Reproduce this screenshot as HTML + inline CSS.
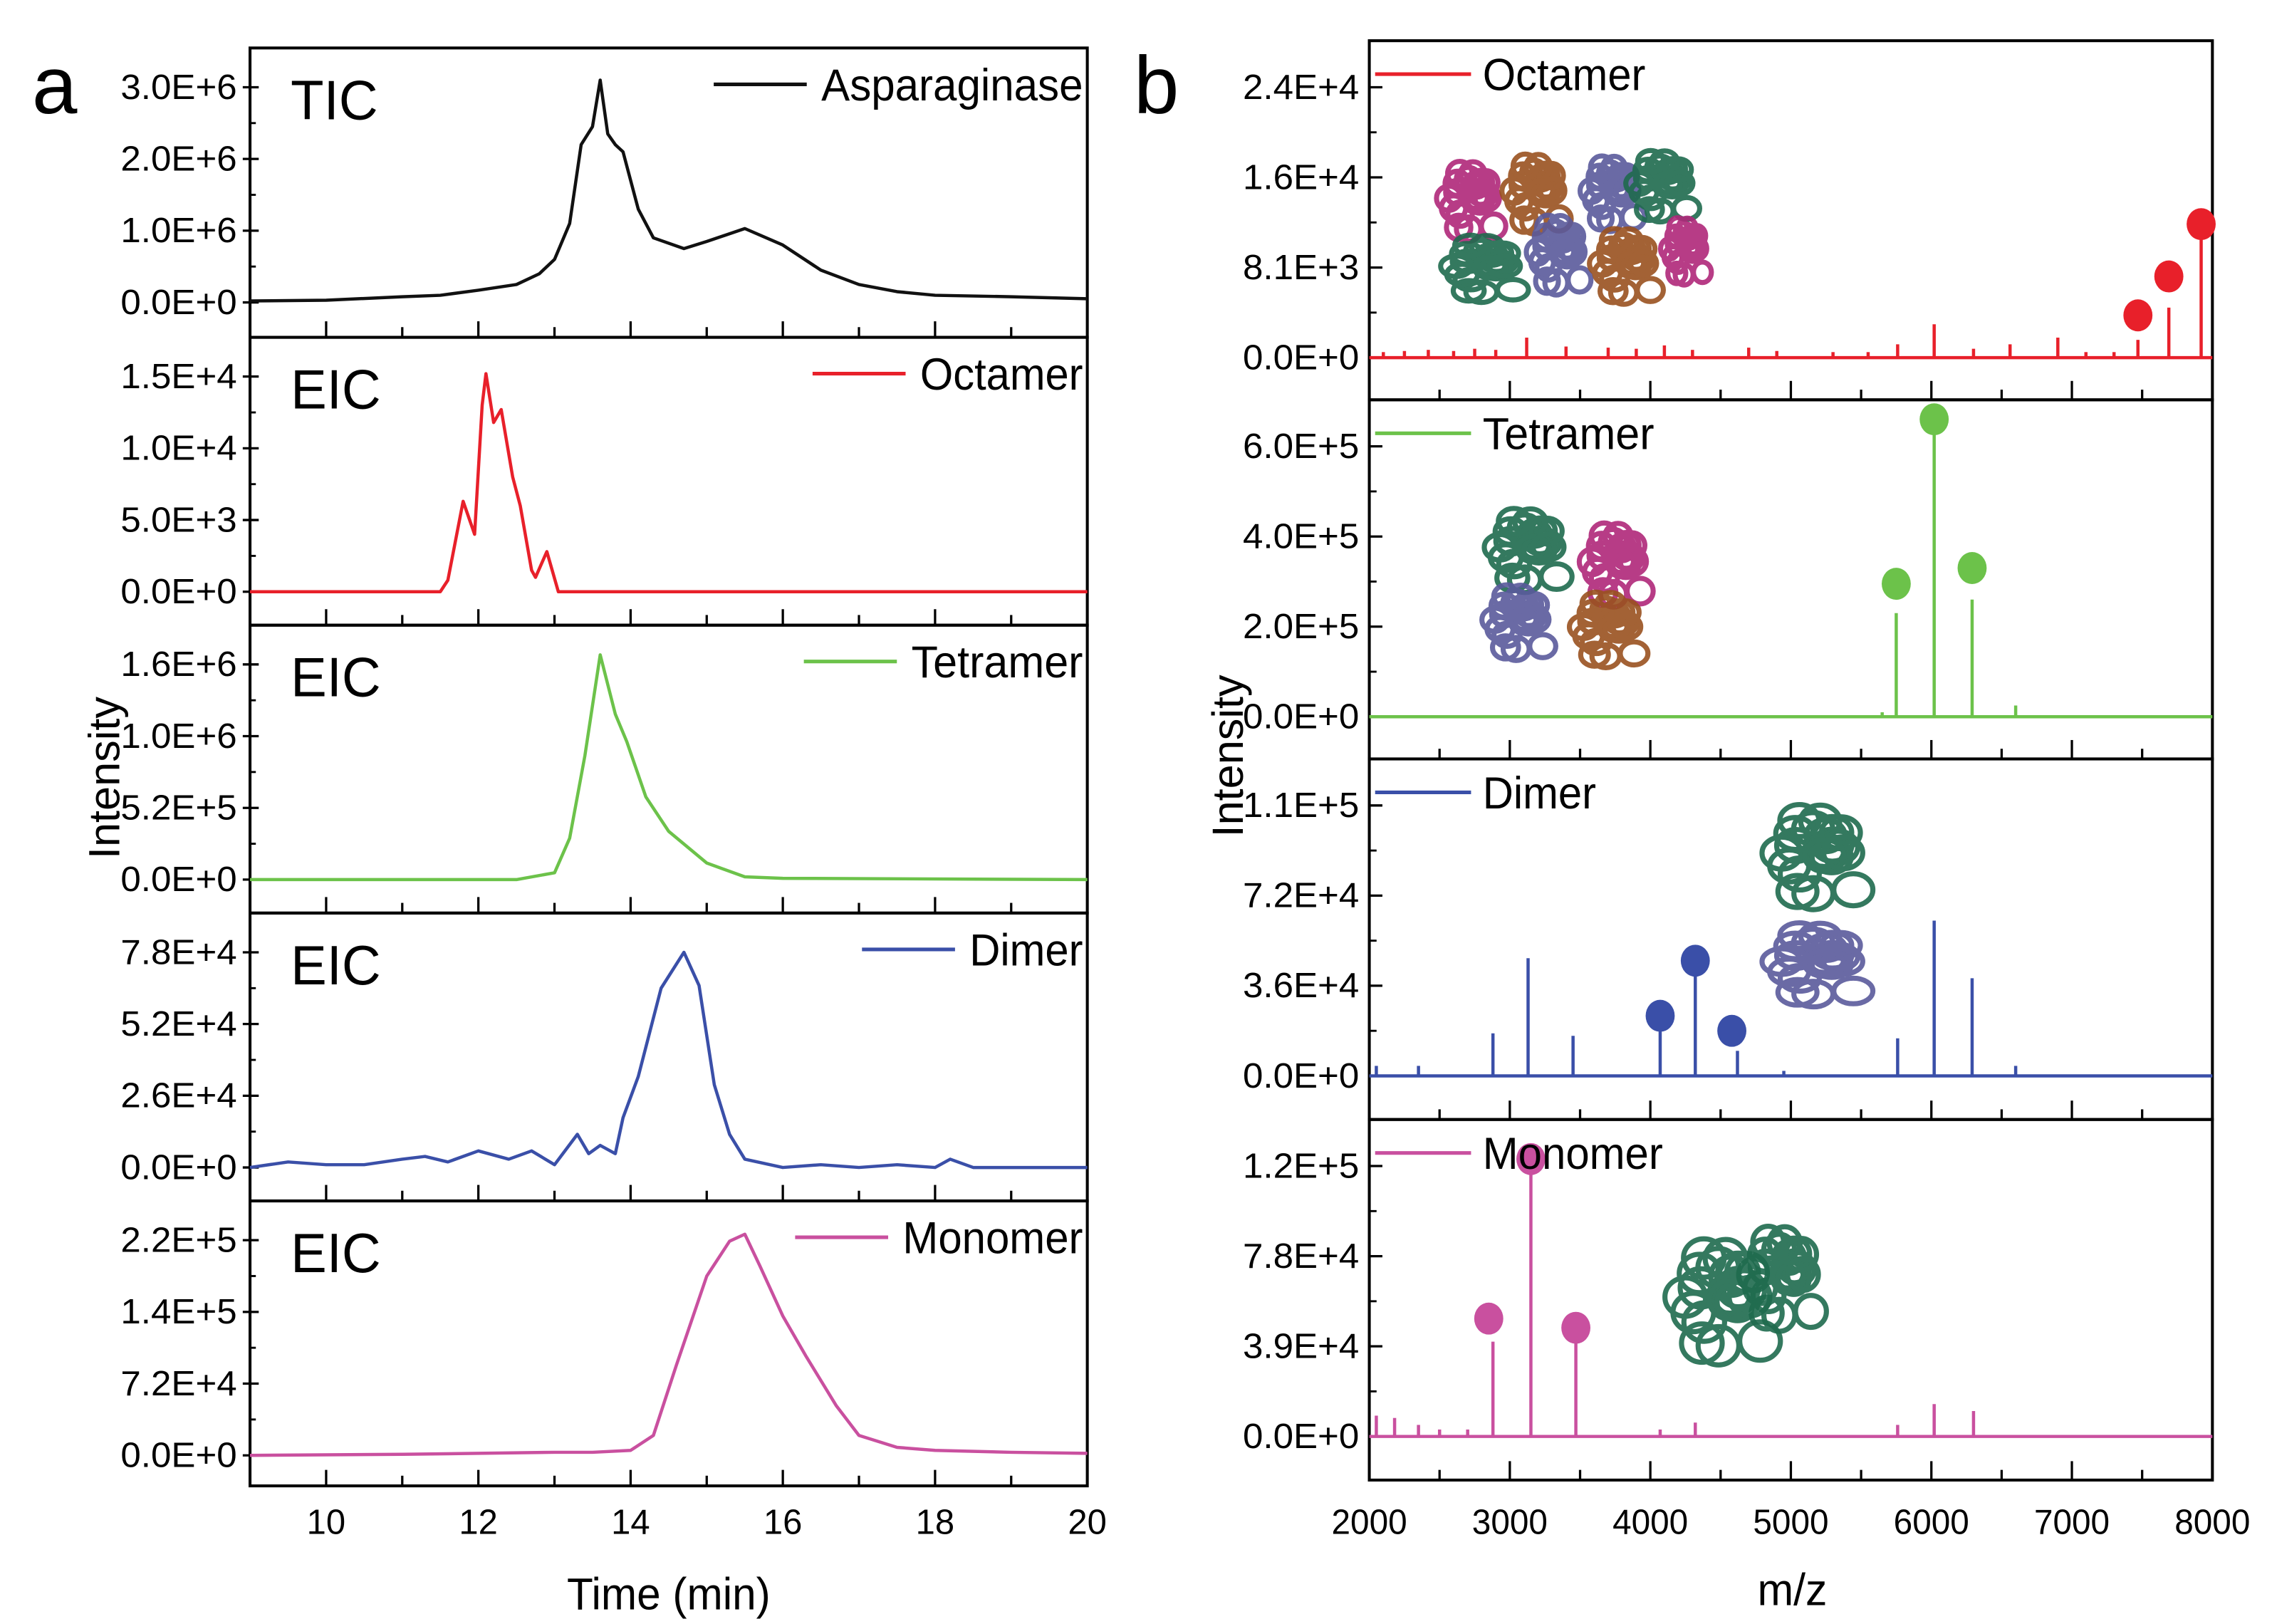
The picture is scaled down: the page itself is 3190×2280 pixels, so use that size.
<!DOCTYPE html>
<html><head><meta charset="utf-8">
<style>
html,body{margin:0;padding:0;background:#fff;}
svg{display:block;font-family:"Liberation Sans",Arial,sans-serif;}
</style></head>
<body>
<svg id="fig" width="3190" height="2280" viewBox="0 0 1563 1117" preserveAspectRatio="none" xmlns="http://www.w3.org/2000/svg">
<rect x="0" y="0" width="1563" height="1117" fill="#fff"/>
<text x="22" y="78" font-size="56">a</text>
<text x="780" y="78" font-size="56">b</text>
<text x="390" y="1107" font-size="31" textLength="140" lengthAdjust="spacingAndGlyphs">Time (min)</text>
<text x="1209" y="1104" font-size="31" textLength="48" lengthAdjust="spacingAndGlyphs">m/z</text>
<text transform="translate(82,535) rotate(-90)" font-size="30" text-anchor="middle">Intensity</text>
<text transform="translate(855,520) rotate(-90)" font-size="30" text-anchor="middle">Intensity</text>
<g id="g"></g>
</svg>
<script>
// ---------- Chromatogram data (panel a) ----------
const ticTime = [9,10,11,11.5,12,12.5,12.8,13,13.2,13.35,13.5,13.6,13.7,13.8,13.9,14.1,14.3,14.7,15,15.5,16,16.5,17,17.5,18,19,20];
const ticVals = [0.02,0.03,0.08,0.1,0.17,0.25,0.4,0.6,1.1,2.2,2.45,3.1,2.35,2.2,2.1,1.3,0.9,0.75,0.85,1.03,0.8,0.45,0.25,0.15,0.1,0.08,0.05];
const octTime = [9,11.5,11.6,11.8,11.95,12.05,12.1,12.2,12.3,12.45,12.55,12.7,12.75,12.9,13.05,20];
const octVals = [0,0,0.8,6.3,4.0,13,15.2,11.8,12.7,8,6,1.5,1.0,2.8,0,0];
const tetTime = [9,12.5,13,13.2,13.4,13.6,13.8,13.95,14.2,14.5,15,15.5,16,20];
const tetVals = [0,0,0.05,0.3,0.9,1.63,1.2,1.0,0.6,0.35,0.12,0.02,0.01,0];
const dimTime = [9,9.5,10,10.5,11,11.3,11.6,12,12.4,12.7,13,13.3,13.45,13.6,13.8,13.9,14.1,14.4,14.7,14.9,15.1,15.3,15.5,16,16.5,17,17.5,18,18.2,18.5,19,20];
const dimVals = [0,0.2,0.1,0.1,0.3,0.4,0.2,0.6,0.3,0.6,0.1,1.2,0.5,0.8,0.5,1.8,3.3,6.5,7.8,6.6,3.0,1.2,0.3,0.0,0.1,0.0,0.1,0.0,0.3,0.0,0.0,0.0];
const monTime = [9,11,13,13.5,14,14.3,14.6,15,15.3,15.5,15.7,16,16.3,16.7,17,17.5,18,19,20];
const monVals = [0,0.01,0.03,0.03,0.05,0.2,0.9,1.8,2.15,2.22,1.9,1.4,1.0,0.5,0.2,0.08,0.05,0.03,0.02];
const timeTicks = [10,12,14,16,18,20];

// ---------- Spectra data (panel b) ----------
const octMz = [2100,2250,2420,2600,2750,2900,3120,3400,3700,3900,4100,4300,4700,4900,5300,5550,5760,6020,6300,6560,6900,7100,7300,7470,7690,7920];
const octInt = [0.5,0.6,0.7,0.6,0.8,0.7,1.8,1.0,0.9,0.8,1.1,0.7,0.9,0.6,0.5,0.5,1.2,3.0,0.8,1.2,1.8,0.5,0.5,1.6,4.5,10.8];
const octMarkMz = [7470,7690,7920];
const octMarkInt = [3.8,7.3,12.0];
const tetMz = [5650,5750,6020,6290,6600];
const tetInt = [0.1,2.3,6.6,2.6,0.25];
const tetMarkMz = [5750,6020,6290];
const tetMarkInt = [2.95,6.6,3.3];
const dimMz = [2050,2350,2880,3130,3450,4070,4320,4620,4950,5760,6020,6290,6600];
const dimInt = [0.4,0.4,1.7,4.7,1.6,2.4,4.6,1.0,0.2,1.5,6.2,3.9,0.4];
const dimMarkMz = [4070,4320,4580];
const dimMarkInt = [2.4,4.6,1.8];
const monMz = [2050,2180,2350,2500,2700,2880,3150,3470,4070,4320,5760,6020,6300];
const monInt = [0.9,0.8,0.5,0.3,0.3,4.1,12.0,4.5,0.3,0.6,0.5,1.4,1.1];
const monMarkMz = [2850,3150,3470];
const monMarkInt = [5.1,12.0,4.7];
const mzTicks = [2000,3000,4000,5000,6000,7000,8000];

const NS = "http://www.w3.org/2000/svg";
const G = document.getElementById('g');
function el(tag, attrs, parent){const e=document.createElementNS(NS,tag);for(const k in attrs)e.setAttribute(k,attrs[k]);(parent||G).appendChild(e);return e;}

// left panels
const LX0=172, LX1=748, T0=9, T1=20;
const xT = t => LX0 + (t-T0)/(T1-T0)*(LX1-LX0);
const leftPanels = [
 {top:33,bot:232,name:'tic',label:'TIC',legend:'Asparaginase',lw:180,color:'#111',t:ticTime,v:ticVals,ticks:[0,1,2,3],tl:['0.0E+0','1.0E+6','2.0E+6','3.0E+6'],max:3},
 {top:232,bot:430,name:'octamer',label:'EIC',legend:'Octamer',lw:112,color:'#e8202a',t:octTime,v:octVals,ticks:[0,5,10,15],tl:['0.0E+0','5.0E+3','1.0E+4','1.5E+4'],max:15},
 {top:430,bot:628,name:'tetramer',label:'EIC',legend:'Tetramer',lw:118,color:'#6cc24a',t:tetTime,v:tetVals,ticks:[0,0.52,1.04,1.56],tl:['0.0E+0','5.2E+5','1.0E+6','1.6E+6'],max:1.56},
 {top:628,bot:826,name:'dimer',label:'EIC',legend:'Dimer',lw:78,color:'#3a4fa8',t:dimTime,v:dimVals,ticks:[0,2.6,5.2,7.8],tl:['0.0E+0','2.6E+4','5.2E+4','7.8E+4'],max:7.8},
 {top:826,bot:1022,name:'monomer',label:'EIC',legend:'Monomer',lw:124,color:'#c9509f',t:monTime,v:monVals,ticks:[0,0.72,1.44,2.16],tl:['0.0E+0','7.2E+4','1.4E+5','2.2E+5'],max:2.16},
];
leftPanels.forEach((p,i)=>{
  const z=p.top+175, tp=p.top+27;
  const yV = v => z - v/p.max*(z-tp);
  const g=el('g',{});
  
  
  const r=el('rect',{x:LX0,y:p.top,width:LX1-LX0,height:p.bot-p.top,fill:'none',stroke:'#000','stroke-width':2},g);
  
  
  p.ticks.forEach((tv,k)=>{
    const y=yV(tv);
    el('line',{x1:LX0-5,x2:LX0+6,y1:y,y2:y,stroke:'#000','stroke-width':1.6},g);
    if(k<3){const ym=yV(tv+(p.ticks[1]-p.ticks[0])/2);el('line',{x1:LX0,x2:LX0+4,y1:ym,y2:ym,stroke:'#000','stroke-width':1.4},g);}
    const t=el('text',{x:83,y:y+8,'font-size':24,textLength:80,lengthAdjust:'spacingAndGlyphs'},g);
    t.textContent=p.tl[k];
    
    
  });
  for(let m=10;m<=19;m++){const x=xT(m);el('line',{x1:x,x2:x,y1:p.bot,y2:p.bot-(m%2===0?11:7),stroke:'#000','stroke-width':1.6},g);}
  const path=p.t.map((t,k)=>(k?'L':'M')+xT(t).toFixed(1)+','+yV(p.v[k]).toFixed(1)).join(' ');
  const ln=el('path',{d:path,fill:'none',stroke:p.color,'stroke-width':2.2,'stroke-linejoin':'round'},g);
  
  
  const lb=el('text',{x:200,y:p.top+49,'font-size':38,textLength:p.label==='TIC'?60:62,lengthAdjust:'spacingAndGlyphs'},g);lb.textContent=p.label;
  
  
  const lt=el('text',{x:745-p.lw,y:p.top+36,'font-size':31,textLength:p.lw,lengthAdjust:'spacingAndGlyphs'},g);lt.textContent=p.legend;
  
  
  el('line',{x1:745-p.lw-74,x2:745-p.lw-10,y1:p.top+25,y2:p.top+25,stroke:p.color,'stroke-width':2.5},g);
});
timeTicks.forEach(t=>{const tx=el('text',{x:xT(t),y:1055,'font-size':24,'text-anchor':'middle'});tx.textContent=t;
  
  });

// right panels
const RX0=942, RX1=1522, M0=2000, M1=8000;
const xM = m => RX0 + (m-M0)/(M1-M0)*(RX1-RX0);
const rightPanels = [
 {top:28,bot:275,name:'octamer',legend:'Octamer',lw:112,color:'#e8202a',mz:octMz,iv:octInt,mmz:octMarkMz,miv:octMarkInt,ticks:[0,8.1,16.2,24.3],tl:['0.0E+0','8.1E+3','1.6E+4','2.4E+4']},
 {top:275,bot:522,name:'tetramer',legend:'Tetramer',lw:118,color:'#6cc24a',mz:tetMz,iv:tetInt,mmz:tetMarkMz,miv:tetMarkInt,ticks:[0,2,4,6],tl:['0.0E+0','2.0E+5','4.0E+5','6.0E+5']},
 {top:522,bot:770,name:'dimer',legend:'Dimer',lw:78,color:'#3a4fa8',mz:dimMz,iv:dimInt,mmz:dimMarkMz,miv:dimMarkInt,ticks:[0,3.6,7.2,10.8],tl:['0.0E+0','3.6E+4','7.2E+4','1.1E+5']},
 {top:770,bot:1018,name:'monomer',legend:'Monomer',lw:124,color:'#c9509f',mz:monMz,iv:monInt,mmz:monMarkMz,miv:monMarkInt,ticks:[0,3.9,7.8,11.7],tl:['0.0E+0','3.9E+4','7.8E+4','1.2E+5']},
];
rightPanels.forEach(p=>{
  const z=p.top+218, tp=p.top+32;
  const max=p.ticks[3];
  const yV=v=>z - v/max*(z-tp);
  const g=el('g',{});
  
  
  const r=el('rect',{x:RX0,y:p.top,width:RX1-RX0,height:p.bot-p.top,fill:'none',stroke:'#000','stroke-width':2},g);
  
  
  p.ticks.forEach((tv,k)=>{
    const y=yV(tv);
    el('line',{x1:RX0,x2:RX0+9,y1:y,y2:y,stroke:'#000','stroke-width':1.6},g);
    const ym=yV(tv+(p.ticks[1]-p.ticks[0])/2);
    if(ym>p.top+3)el('line',{x1:RX0,x2:RX0+5,y1:ym,y2:ym,stroke:'#000','stroke-width':1.4},g);
    const t=el('text',{x:855,y:y+8,'font-size':24,textLength:80,lengthAdjust:'spacingAndGlyphs'},g);t.textContent=p.tl[k];
    
    
  });
  for(let m=2500;m<8000;m+=500){const x=xM(m);el('line',{x1:x,x2:x,y1:p.bot,y2:p.bot-(m%1000===0?13:7),stroke:'#000','stroke-width':1.6},g);}
  el('line',{x1:RX0,x2:RX1,y1:z,y2:z,stroke:p.color,'stroke-width':2.2},g);
  p.mz.forEach((m,k)=>{
    const s=el('line',{x1:xM(m),x2:xM(m),y1:z,y2:yV(p.iv[k]),stroke:p.color,'stroke-width':2.2},g);
    
    
  });
  p.mmz.forEach((m,k)=>{
    const c=el('ellipse',{cx:xM(m),cy:yV(p.miv[k]),rx:10,ry:11,fill:p.color},g);
    
    
  });
  const lt=el('text',{x:RX0+78,y:p.top+34,'font-size':31,textLength:p.lw,lengthAdjust:'spacingAndGlyphs'},g);lt.textContent=p.legend;
  
  
  el('line',{x1:RX0+4,x2:RX0+70,y1:p.top+23,y2:p.top+23,stroke:p.color,'stroke-width':2.5},g);
});
mzTicks.forEach(m=>{const tx=el('text',{x:xM(m)-26,y:1055,'font-size':24,textLength:52,lengthAdjust:'spacingAndGlyphs'});tx.textContent=m;
  
  });

// protein structure insets (decorative blobs)
function blob(cx,cy,rx,ry,col,name){
  const g=el('g',{opacity:0.9});
  
  
  for(let i=0;i<22;i++){
    const a=i*2.399, r=((i*7)%11)/11;
    el('ellipse',{cx:cx+Math.cos(a)*rx*r*0.75,cy:cy+Math.sin(a)*ry*r*0.75,rx:rx*0.28,ry:ry*0.22,fill:'none',stroke:col,'stroke-width':3.5},g);
  }
}
const G1='#1f6b4e',M='#b0287a',B='#5a5a9c',O='#9a5220';
blob(1015,135,30,38,M,'octamer-structure');blob(1060,130,30,38,O,'octamer-structure');
blob(1025,182,38,32,G1,'octamer-structure');blob(1075,172,28,38,B,'octamer-structure');
blob(1112,130,28,36,B,'octamer-structure');blob(1147,125,32,34,G1,'octamer-structure');
blob(1122,180,32,36,O,'octamer-structure');blob(1162,170,22,32,M,'octamer-structure');
blob(1055,375,38,40,G1,'tetramer-structure');blob(1115,385,32,40,M,'tetramer-structure');
blob(1048,425,32,36,B,'tetramer-structure');blob(1110,430,34,36,O,'tetramer-structure');
blob(1255,585,48,50,G1,'dimer-structure');blob(1255,660,48,40,B,'dimer-structure');
blob(1190,890,50,60,G1,'monomer-structure');blob(1230,875,38,50,G1,'monomer-structure');
</script>
</body></html>
